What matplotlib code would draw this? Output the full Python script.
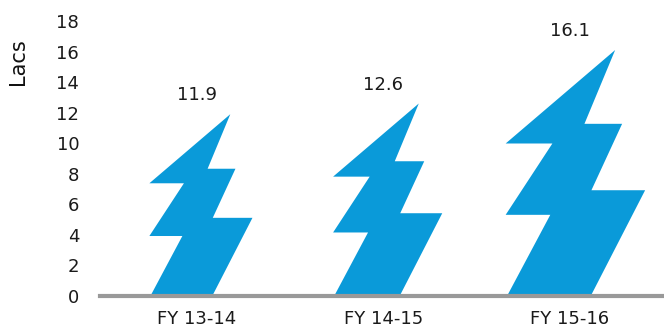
import matplotlib
matplotlib.use("Agg")
import matplotlib.pyplot as plt
from matplotlib.patches import Polygon

# dados do gráfico
anos = ['FY 13-14', 'FY 14-15', 'FY 15-16']
valores = [11.9, 12.6, 16.1]
yticks = [0, 2, 4, 6, 8, 10, 12, 14, 16, 18]

cor_raio = '#0a9ad9'
cor_eixo = '#999999'

# forma do raio (coordenadas normalizadas: largura x altura)
forma = [(0.01, 0.0), (0.61, 0.0), (1.0, 0.43), (0.615, 0.43),
         (0.835, 0.70), (0.565, 0.70), (0.785, 1.0), (0.0, 0.62),
         (0.335, 0.62), (0.0, 0.33), (0.32, 0.33)]
proporcao = 0.567  # largura / altura em pixels

plt.rcParams['font.family'] = ['DejaVu Sans']

fig = plt.figure(figsize=(6.64, 3.31), dpi=100)
ax = fig.add_axes([100 / 664, 35 / 331, 564 / 664, 275 / 331])
ax.set_xlim(-0.519, 2.505)
ax.set_ylim(0, 18)

# pixels por unidade em cada eixo
bbox = ax.get_window_extent()
px_x = bbox.width / (2.505 + 0.519)
px_y = bbox.height / 18

for i, v in enumerate(valores):
    h = v
    w = proporcao * v * px_y / px_x
    esquerda = i - 0.46 * w
    pts = [(esquerda + u * w, t * h) for u, t in forma]
    ax.add_patch(Polygon(pts, closed=True, facecolor=cor_raio,
                         edgecolor='none', zorder=2))
    ax.annotate(f'{v}', xy=(i, v), xytext=(0, 7), textcoords='offset points',
                ha='center', va='bottom', fontsize=13, color='#1a1a1a')

ax.axhline(0, color=cor_eixo, linewidth=3, zorder=3, clip_on=False)

ax.set_xticks(range(len(anos)))
ax.set_xticklabels(anos)
ax.set_yticks(yticks)
ax.tick_params(axis='both', length=0, labelsize=13, colors='#1a1a1a')
ax.tick_params(axis='y', pad=15)
ax.tick_params(axis='x', pad=10)
for s in ax.spines.values():
    s.set_visible(False)

fig.text(18 / 664, 1 - 62 / 331, 'Lacs', rotation=90, ha='center',
         va='center', fontsize=15, color='#111111')

fig.savefig('out.png', dpi=100)
